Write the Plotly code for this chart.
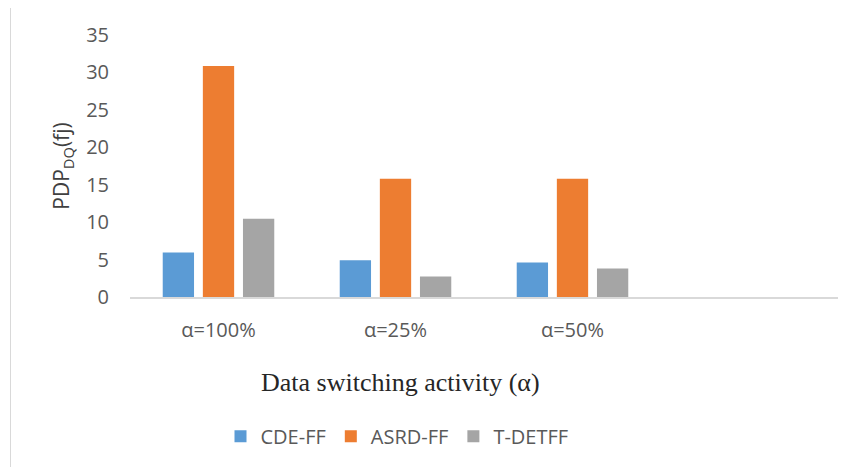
import plotly.graph_objects as go

categories = ["α=100%", "α=25%", "α=50%"]
series_names = ["CDE-FF", "ASRD-FF", "T-DETFF"]
cde_ff = [5.95, 4.9, 4.6]
asrd_ff = [30.85, 15.8, 15.8]
t_detff = [10.45, 2.75, 3.8]
colors = ["#5B9BD5", "#ED7D31", "#A5A5A5"]
y_ticks = [0, 5, 10, 15, 20, 25, 30, 35]

# page body adds an 8px offset; targets below are screen pixels
OFF = 8
W, H = 853, 467
ML = 130 - OFF
MT = 35 - OFF
PLOT_BOTTOM = 297.5 - OFF
PLOT_RIGHT = 838 - OFF
MB = H - PLOT_BOTTOM
MR = W - PLOT_RIGHT
PH = H - MT - MB
PW = W - ML - MR

def px_to_paper_x(px):
    return (px - OFF - ML) / PW

def px_to_paper_y(py):
    return (PLOT_BOTTOM - (py - OFF)) / PH

fig = go.Figure()
for name, vals, col in zip(series_names, [cde_ff, asrd_ff, t_detff], colors):
    fig.add_trace(go.Bar(x=categories, y=vals, name=name, marker_color=col,
                         marker_line_width=0))

font_family = "Open Sans, Segoe UI, Calibri, sans-serif"
grey = "#595959"

fig.update_layout(
    width=W, height=H,
    margin=dict(l=ML, r=MR, t=MT, b=MB, autoexpand=False),
    paper_bgcolor="white", plot_bgcolor="white",
    barmode="group", bargap=0.32, bargroupgap=0.22,
    font=dict(family=font_family, color=grey, size=20),
    showlegend=True,
    legend=dict(orientation="h", x=px_to_paper_x(397), xanchor="center",
                y=px_to_paper_y(437), yanchor="middle",
                font=dict(size=20, color=grey),
                traceorder="normal"),
    xaxis=dict(type="category", range=[-0.5, 3.5], showgrid=False,
               showline=True, linecolor="#D9D9D9", linewidth=1.5,
               ticks="", ticklabelstandoff=14,
               tickfont=dict(size=20, color=grey)),
    yaxis=dict(range=[0, 35], tickvals=y_ticks, showgrid=False,
               showline=False, zeroline=False, ticks="",
               ticklabelstandoff=20,
               tickfont=dict(size=20, color=grey),
               title=dict(text="PDP<sub>DQ</sub>(fj)", standoff=10,
                          font=dict(size=21, color="#404040"))),
)

fig.add_annotation(text="Data switching activity (α)", xref="paper", yref="paper",
                   x=px_to_paper_x(400), y=px_to_paper_y(383),
                   xanchor="center", yanchor="middle", showarrow=False,
                   font=dict(family="Liberation Serif, Times New Roman, serif",
                             size=26, color="#262626"))

fig.add_shape(type="rect", xref="paper", yref="paper",
              x0=px_to_paper_x(10.5), x1=px_to_paper_x(880),
              y0=px_to_paper_y(490), y1=px_to_paper_y(6.5),
              line=dict(color="#D9D9D9", width=1), fillcolor="rgba(0,0,0,0)",
              layer="below")

fig.write_html("out.html")
